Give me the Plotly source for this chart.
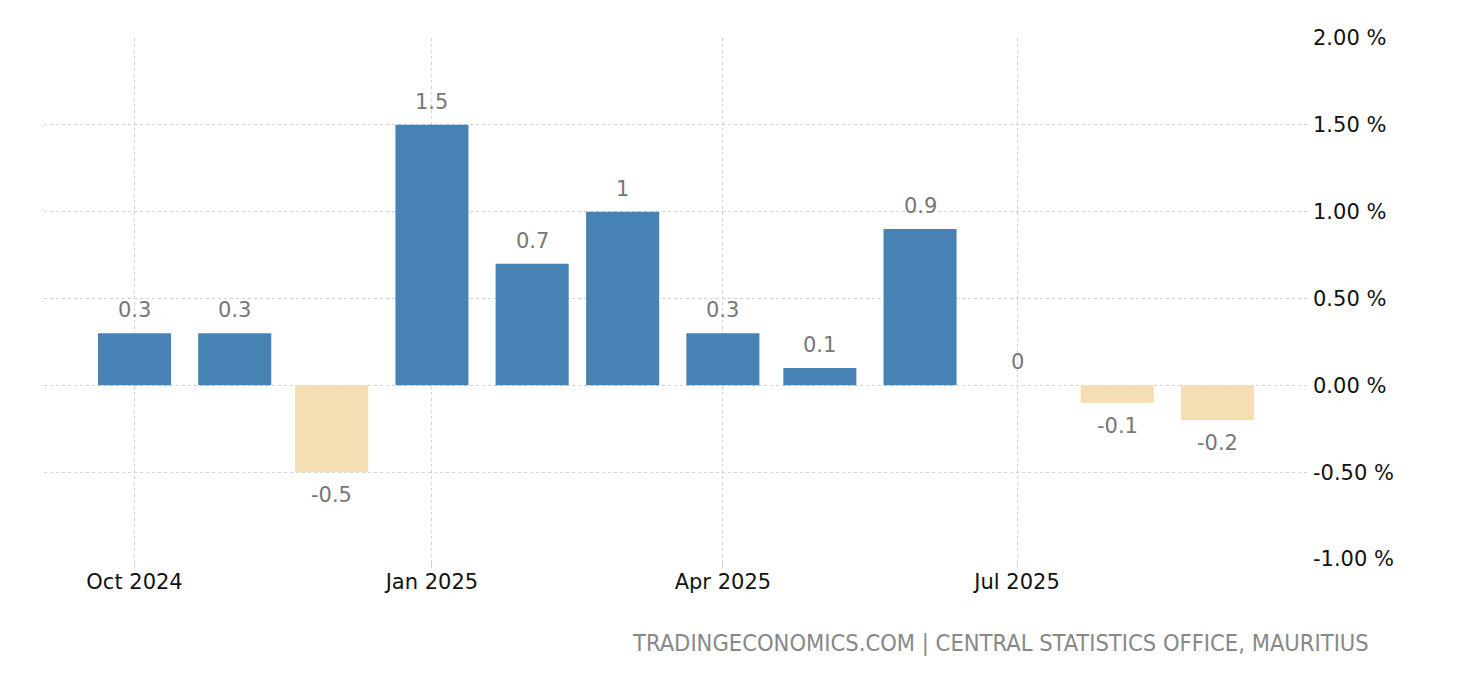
import plotly.graph_objects as go

months = ["2024-10-01", "2024-11-01", "2024-12-01", "2025-01-01", "2025-02-01", "2025-03-01",
          "2025-04-01", "2025-05-01", "2025-06-01", "2025-07-01", "2025-08-01", "2025-09-01"]
values = [0.3, 0.3, -0.5, 1.5, 0.7, 1.0, 0.3, 0.1, 0.9, 0.0, -0.1, -0.2]
labels = ["0.3", "0.3", "-0.5", "1.5", "0.7", "1", "0.3", "0.1", "0.9", "0", "-0.1", "-0.2"]
x_ticks = ["2024-10-01", "2025-01-01", "2025-04-01", "2025-07-01"]
x_ticklabels = ["Oct 2024", "Jan 2025", "Apr 2025", "Jul 2025"]
y_ticks = [-1.0, -0.5, 0.0, 0.5, 1.0, 1.5, 2.0]
y_ticklabels = ["-1.00 %", "-0.50 %", "0.00 %", "0.50 %", "1.00 %", "1.50 %", "2.00 %"]

FONT = "DejaVu Sans"
colors = ["#4682B4" if v >= 0 else "#F5DEB3" for v in values]
DAY_MS = 86400000

fig = go.Figure()
fig.add_trace(go.Bar(
    x=months, y=values, marker=dict(color=colors, line=dict(width=0)),
    width=[22.6 * DAY_MS] * len(values), hoverinfo="x+y",
))

for m, v, t in zip(months, values, labels):
    fig.add_annotation(
        x=m, y=v, text=t, showarrow=False,
        yanchor="top" if v < 0 else "bottom",
        yshift=-9 if v < 0 else 9,
        font=dict(family=FONT, size=21, color="#777777"),
    )

fig.add_annotation(
    xref="paper", yref="paper", x=1.0498, y=-0.1304, xanchor="right", yanchor="top",
    text="TRADINGECONOMICS.COM | CENTRAL STATISTICS OFFICE, MAURITIUS", showarrow=False,
    font=dict(family="DejaVu Sans Condensed", size=23.5, color="#888888"),
)

fig.update_layout(
    width=1452, height=672,
    margin=dict(l=36, r=152, t=30, b=121),
    plot_bgcolor="white", paper_bgcolor="white",
    showlegend=False,
    xaxis=dict(
        type="date", range=["2024-09-03", "2025-09-29"],
        tickmode="array", tickvals=x_ticks, ticktext=x_ticklabels,
        showgrid=True, gridcolor="#d3d3d3", griddash="dot", gridwidth=1,
        ticks="outside", ticklen=8, tickcolor="#d3d3d3",
        ticklabelstandoff=-4,
        showline=False, zeroline=False,
        tickfont=dict(family=FONT, size=21, color="#111111"),
    ),
    yaxis=dict(
        side="right", range=[-1.0, 2.0],
        tickmode="array", tickvals=y_ticks, ticktext=y_ticklabels,
        showgrid=True, gridcolor="#d3d3d3", griddash="dot", gridwidth=1,
        zeroline=False, showline=False, ticks="",
        ticklabelstandoff=4,
        tickfont=dict(family=FONT, size=21, color="#111111"),
    ),
)

fig.write_html("out.html")
